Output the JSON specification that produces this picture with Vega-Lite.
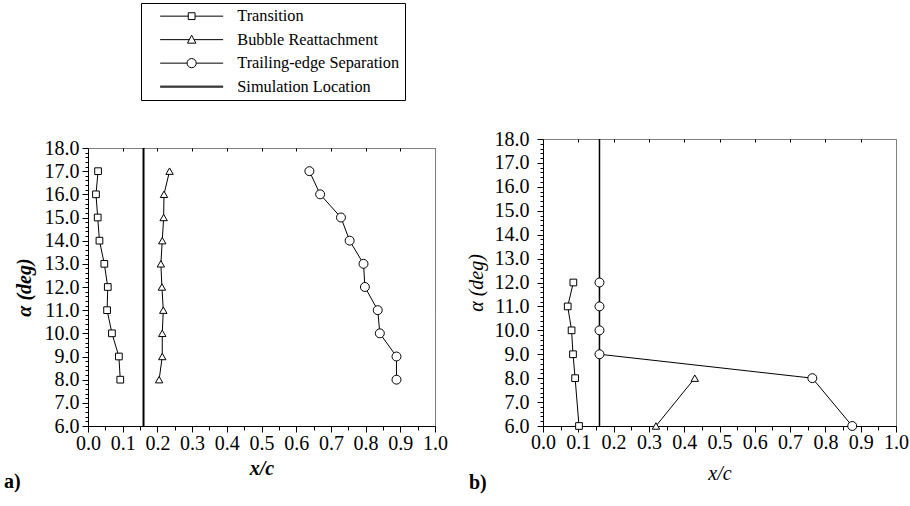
{
  "$schema": "https://vega.github.io/schema/vega-lite/v6.json",
  "background": "white",
  "padding": {"left": 4, "top": 2, "right": 0, "bottom": 2},
  "autosize": {"type": "pad"},
  "datasets": {
    "a": [
      {"series": "Transition", "x": 0.029, "alpha": 17},
      {"series": "Transition", "x": 0.023, "alpha": 16},
      {"series": "Transition", "x": 0.028, "alpha": 15},
      {"series": "Transition", "x": 0.033, "alpha": 14},
      {"series": "Transition", "x": 0.047, "alpha": 13},
      {"series": "Transition", "x": 0.057, "alpha": 12},
      {"series": "Transition", "x": 0.055, "alpha": 11},
      {"series": "Transition", "x": 0.069, "alpha": 10},
      {"series": "Transition", "x": 0.089, "alpha": 9},
      {"series": "Transition", "x": 0.093, "alpha": 8},
      {"series": "Bubble Reattachment", "x": 0.235, "alpha": 17},
      {"series": "Bubble Reattachment", "x": 0.219, "alpha": 16},
      {"series": "Bubble Reattachment", "x": 0.218, "alpha": 15},
      {"series": "Bubble Reattachment", "x": 0.214, "alpha": 14},
      {"series": "Bubble Reattachment", "x": 0.210, "alpha": 13},
      {"series": "Bubble Reattachment", "x": 0.213, "alpha": 12},
      {"series": "Bubble Reattachment", "x": 0.217, "alpha": 11},
      {"series": "Bubble Reattachment", "x": 0.214, "alpha": 10},
      {"series": "Bubble Reattachment", "x": 0.214, "alpha": 9},
      {"series": "Bubble Reattachment", "x": 0.205, "alpha": 8},
      {"series": "Trailing-edge Separation", "x": 0.638, "alpha": 17},
      {"series": "Trailing-edge Separation", "x": 0.669, "alpha": 16},
      {"series": "Trailing-edge Separation", "x": 0.729, "alpha": 15},
      {"series": "Trailing-edge Separation", "x": 0.754, "alpha": 14},
      {"series": "Trailing-edge Separation", "x": 0.794, "alpha": 13},
      {"series": "Trailing-edge Separation", "x": 0.798, "alpha": 12},
      {"series": "Trailing-edge Separation", "x": 0.835, "alpha": 11},
      {"series": "Trailing-edge Separation", "x": 0.841, "alpha": 10},
      {"series": "Trailing-edge Separation", "x": 0.889, "alpha": 9},
      {"series": "Trailing-edge Separation", "x": 0.889, "alpha": 8},
      {"series": "Simulation Location", "x": 0.16}
    ],
    "b": [
      {"series": "Transition", "x": 0.086, "alpha": 12},
      {"series": "Transition", "x": 0.070, "alpha": 11},
      {"series": "Transition", "x": 0.081, "alpha": 10},
      {"series": "Transition", "x": 0.085, "alpha": 9},
      {"series": "Transition", "x": 0.091, "alpha": 8},
      {"series": "Transition", "x": 0.102, "alpha": 6},
      {"series": "Bubble Reattachment", "x": 0.320, "alpha": 6},
      {"series": "Bubble Reattachment", "x": 0.430, "alpha": 8},
      {"series": "Trailing-edge Separation", "x": 0.16, "alpha": 12},
      {"series": "Trailing-edge Separation", "x": 0.16, "alpha": 11},
      {"series": "Trailing-edge Separation", "x": 0.16, "alpha": 10},
      {"series": "Trailing-edge Separation", "x": 0.16, "alpha": 9},
      {"series": "Trailing-edge Separation", "x": 0.763, "alpha": 8},
      {"series": "Trailing-edge Separation", "x": 0.876, "alpha": 6},
      {"series": "Simulation Location", "x": 0.16}
    ]
  },
  "bounds": "flush",
  "spacing": 108,
  "hconcat": [
    {
      "width": 347,
      "height": 287,
      "view": {"stroke": null},
      "title": {"text": "a)", "orient": "bottom", "anchor": "start", "frame": "bounds", "dx": -10, "offset": -6},
      "data": {"name": "a"},
      "layer": [
        {
          "transform": [{"filter": "datum.series === 'Simulation Location'"}],
          "mark": {"type": "rule", "color": "black", "strokeWidth": 2},
          "encoding": {
            "x": {"field": "x", "type": "quantitative", "scale": {"domain": [0, 1], "nice": false, "zero": false},
              "axis": {"orient": "bottom", "values": [0,0.05,0.1,0.15,0.2,0.25,0.3,0.35,0.4,0.45,0.5,0.55,0.6,0.65,0.7,0.75,0.8,0.85,0.9,0.95,1],
                "labelExpr": "abs(datum.value*10 - round(datum.value*10)) < 0.001 ? format(datum.value, '.1f') : ''",
                "tickSize": {"condition": {"test": "abs(datum.value*10 - round(datum.value*10)) < 0.001", "value": 6}, "value": 4},
                "labelOverlap": false, "labelPadding": 1, "title": "x/c", "titleFontStyle": "italic", "titleFontWeight": "bold", "titlePadding": 5}},
            "y": {"datum": 6, "type": "quantitative", "axis": null},
            "y2": {"datum": 18}
          }
        },
        {
          "transform": [{"filter": "datum.series !== 'Simulation Location'"}],
          "mark": {"type": "line", "color": "black", "strokeWidth": 1},
          "encoding": {
            "x": {"field": "x", "type": "quantitative", "axis": null},
            "y": {"field": "alpha", "type": "quantitative", "scale": {"domain": [6, 18], "nice": false, "zero": false, "range": [287, 9]},
              "axis": {"values": [6,6.2,6.4,6.6,6.8,7,7.2,7.4,7.6,7.8,8,8.2,8.4,8.6,8.8,9,9.2,9.4,9.6,9.8,10,10.2,10.4,10.6,10.8,11,11.2,11.4,11.6,11.8,12,12.2,12.4,12.6,12.8,13,13.2,13.4,13.6,13.8,14,14.2,14.4,14.6,14.8,15,15.2,15.4,15.6,15.8,16,16.2,16.4,16.6,16.8,17,17.2,17.4,17.6,17.8,18],
                "labelExpr": "abs(datum.value - round(datum.value)) < 0.001 ? format(datum.value, '.1f') : ''",
                "tickSize": {"condition": {"test": "abs(datum.value - round(datum.value)) < 0.001", "value": 6}, "value": 3},
                "labelOverlap": false, "labelPadding": 3, "title": "α (deg)", "titleFontStyle": "italic", "titleFontWeight": "bold", "titlePadding": 10}},
            "detail": {"field": "series"},
            "order": {"field": "alpha", "type": "quantitative"}
          }
        },
        {
          "transform": [{"filter": "datum.series === 'Transition'"}],
          "mark": {"type": "point", "shape": "square", "size": 45, "filled": true, "fill": "white", "stroke": "black", "strokeWidth": 1, "opacity": 1},
          "encoding": {
            "x": {"field": "x", "type": "quantitative", "axis": null},
            "y": {"field": "alpha", "type": "quantitative", "axis": null}
          }
        },
        {
          "transform": [{"filter": "datum.series === 'Bubble Reattachment'"}],
          "mark": {"type": "point", "shape": "triangle-up", "size": 55, "filled": true, "fill": "white", "stroke": "black", "strokeWidth": 1, "opacity": 1},
          "encoding": {
            "x": {"field": "x", "type": "quantitative", "axis": null},
            "y": {"field": "alpha", "type": "quantitative", "axis": null}
          }
        },
        {
          "transform": [{"filter": "datum.series === 'Trailing-edge Separation'"}],
          "mark": {"type": "point", "shape": "circle", "size": 80, "filled": true, "fill": "white", "stroke": "black", "strokeWidth": 1, "opacity": 1},
          "encoding": {
            "x": {"field": "x", "type": "quantitative", "axis": null},
            "y": {"field": "alpha", "type": "quantitative", "axis": null}
          }
        },
        {
          "transform": [{"filter": "false"}],
          "mark": {"type": "point"},
          "encoding": {
            "x": {"field": "x", "type": "quantitative",
              "axis": {"orient": "top", "offset": -9, "values": [0.1,0.2,0.3,0.4,0.5,0.6,0.7,0.8,0.9], "labels": false, "domain": true, "domainDash": [1, 1], "tickSize": -3, "title": null}},
            "y": {"field": "alpha", "type": "quantitative",
              "axis": {"orient": "right", "labels": false, "ticks": false, "domain": true, "domainDash": [1, 1], "title": null}},
            "shape": {"field": "series", "type": "nominal",
              "scale": {"domain": ["Transition", "Bubble Reattachment", "Trailing-edge Separation", "Simulation Location"],
                "range": [
                  "M0.8,0H4.547M5.453,0H9.2M4.547,-0.453H5.453V0.453H4.547Z",
                  "M0.8,0H4.685M5.315,0H9.2M5,-0.6L5.56,0.467H4.44Z",
                  "M0.8,0H4.387M5.613,0H9.2M4.387,0A0.613,0.613 0 1,1 5.613,0A0.613,0.613 0 1,1 4.387,0Z",
                  "M0.8,-0.067H9.2M0.8,0.067H9.2"
                ]},
              "legend": {"title": null, "orient": "none", "legendX": 53, "legendY": -136,
                "symbolSize": 225, "symbolStrokeColor": "black", "symbolFillColor": "white", "symbolStrokeWidth": 1, "symbolOpacity": 1,
                "labelFont": "Liberation Serif", "labelFontSize": 16.3, "labelColor": "black", "labelLimit": 400, "labelOffset": 75,
                "strokeColor": "black", "fillColor": "white", "padding": 5, "rowPadding": 6.5}}
          }
        }
      ],
      "resolve": {"axis": {"x": "independent", "y": "independent"}}
    },
    {
      "width": 353,
      "height": 287,
      "title": {"text": "b)", "orient": "bottom", "anchor": "start", "frame": "bounds", "dx": 3, "offset": -10},
      "data": {"name": "b"},
      "layer": [
        {
          "transform": [{"filter": "datum.series === 'Simulation Location'"}],
          "mark": {"type": "rule", "color": "black", "strokeWidth": 1.5},
          "encoding": {
            "x": {"field": "x", "type": "quantitative", "scale": {"domain": [0, 1], "nice": false, "zero": false},
              "axis": {"orient": "bottom", "values": [0,0.05,0.1,0.15,0.2,0.25,0.3,0.35,0.4,0.45,0.5,0.55,0.6,0.65,0.7,0.75,0.8,0.85,0.9,0.95,1],
                "labelExpr": "abs(datum.value*10 - round(datum.value*10)) < 0.001 ? format(datum.value, '.1f') : ''",
                "tickSize": {"condition": {"test": "abs(datum.value*10 - round(datum.value*10)) < 0.001", "value": 6}, "value": 4},
                "labelOverlap": false, "labelPadding": 0, "title": "x/c", "titleFontStyle": "italic", "titleFontWeight": "normal", "titlePadding": 11}}
          }
        },
        {
          "transform": [{"filter": "datum.series !== 'Simulation Location'"}],
          "mark": {"type": "line", "color": "black", "strokeWidth": 1},
          "encoding": {
            "x": {"field": "x", "type": "quantitative", "axis": null},
            "y": {"field": "alpha", "type": "quantitative", "scale": {"domain": [6, 18], "nice": false, "zero": false},
              "axis": {"values": [6,6.2,6.4,6.6,6.8,7,7.2,7.4,7.6,7.8,8,8.2,8.4,8.6,8.8,9,9.2,9.4,9.6,9.8,10,10.2,10.4,10.6,10.8,11,11.2,11.4,11.6,11.8,12,12.2,12.4,12.6,12.8,13,13.2,13.4,13.6,13.8,14,14.2,14.4,14.6,14.8,15,15.2,15.4,15.6,15.8,16,16.2,16.4,16.6,16.8,17,17.2,17.4,17.6,17.8,18],
                "labelExpr": "abs(datum.value - round(datum.value)) < 0.001 ? format(datum.value, '.1f') : ''",
                "tickSize": {"condition": {"test": "abs(datum.value - round(datum.value)) < 0.001", "value": 6}, "value": 3},
                "labelOverlap": false, "labelPadding": 8, "title": "α (deg)", "titleFontStyle": "italic", "titleFontWeight": "normal", "titlePadding": 8}},
            "detail": {"field": "series"},
            "order": {"field": "alpha", "type": "quantitative"}
          }
        },
        {
          "transform": [{"filter": "datum.series === 'Transition'"}],
          "mark": {"type": "point", "shape": "square", "size": 45, "filled": true, "fill": "white", "stroke": "black", "strokeWidth": 1, "opacity": 1},
          "encoding": {
            "x": {"field": "x", "type": "quantitative", "axis": null},
            "y": {"field": "alpha", "type": "quantitative", "axis": null}
          }
        },
        {
          "transform": [{"filter": "datum.series === 'Bubble Reattachment'"}],
          "mark": {"type": "point", "shape": "triangle-up", "size": 55, "filled": true, "fill": "white", "stroke": "black", "strokeWidth": 1, "opacity": 1},
          "encoding": {
            "x": {"field": "x", "type": "quantitative", "axis": null},
            "y": {"field": "alpha", "type": "quantitative", "axis": null}
          }
        },
        {
          "transform": [{"filter": "datum.series === 'Trailing-edge Separation'"}],
          "mark": {"type": "point", "shape": "circle", "size": 80, "filled": true, "fill": "white", "stroke": "black", "strokeWidth": 1, "opacity": 1},
          "encoding": {
            "x": {"field": "x", "type": "quantitative",
              "axis": {"orient": "top", "values": [0.1,0.2,0.3,0.4,0.5,0.6,0.7,0.8,0.9], "labels": false, "domain": false, "tickSize": -3, "title": null}},
            "y": {"field": "alpha", "type": "quantitative", "axis": null}
          }
        }
      ],
      "resolve": {"axis": {"x": "independent", "y": "independent"}}
    }
  ],
  "resolve": {"scale": {"shape": "independent"}, "legend": {"shape": "independent"}},
  "config": {
    "font": "Liberation Serif",
    "view": {"stroke": "black", "strokeDash": [1, 1], "strokeWidth": 1},
    "axis": {"labelFont": "Liberation Serif", "labelFontSize": 20, "labelColor": "black", "titleFont": "Liberation Serif", "titleFontSize": 20, "titleColor": "black", "domainColor": "black", "domainWidth": 1, "tickColor": "black", "tickWidth": 1, "grid": false, "labelFlush": false, "labelOverlap": false, "labelBound": false},
    "title": {"font": "Liberation Serif", "fontSize": 20, "fontWeight": "bold", "color": "black"}
  }
}
